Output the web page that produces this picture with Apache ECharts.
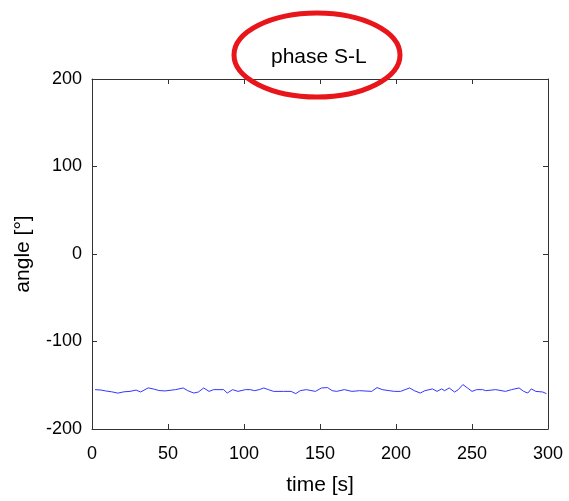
<!DOCTYPE html>
<html>
<head>
<meta charset="utf-8">
<script src="https://cdn.jsdelivr.net/npm/echarts@6/dist/echarts.min.js"></script>
<style>html,body{margin:0;padding:0;background:#fff;}#c{width:569px;height:501px;}</style>
</head>
<body>
<div id="c"></div>
<script>
var titleText = 'phase S-L';
var xTicks = [0, 50, 100, 150, 200, 250, 300];
var yTicks = [-200, -100, 0, 100, 200];
var times = [2,6,9,13,17,21,25,29,32,37,41,44,48,
  55,60,63,67,70,73.5,77,80,86.6,89,92.5,96,101,
  104,107,110,113,116,119.5,126,131,134,137,141,147,151,
  155,158,161,166,171,176,184,187.5,191,195.5,199,203,
  206,209,212,216,219,224,227,230,232,235,238.5,241,244,247,250,253,
  257,259,265.6,272,276,281,284,286.7,289,292,296.5,299];
var angles = [-155,-155.5,-156.5,-157.5,-159,-157.5,-157,-155.5,-157.7,-153,-154.5,-156,-156.5,
  -155,-153.1,-156.2,-158.9,-157.7,-153.1,-157,-155,-155,-158.9,-155,-157,-155,
  -155,-156.2,-155,-153.1,-155,-157,-157,-157,-159.6,-156.2,-155,-157,-153.1,
  -152.7,-156.2,-157,-155,-157,-156.2,-157,-152.7,-155,-156.2,-157,-157,
  -155,-153.1,-156.2,-158.9,-156.2,-154.2,-157,-154.2,-156.2,-153.1,-157.7,-155,-149.2,-153.1,-157,-155,
  -155,-156.2,-155,-157,-155,-153.1,-157,-158.9,-154.2,-157,-157.7,-159.6];

var data = times.map(function(t, i){ return [t, angles[i]]; });

var chart = echarts.init(document.getElementById('c'));
var font = 'Liberation Sans, Arial, Helvetica, sans-serif';
function axisLine(){ return {show:true, onZero:false, lineStyle:{color:'#333', width:1}}; }
function tick(len){ return {show:true, inside:true, length:len||5, lineStyle:{color:'#333', width:1}}; }
chart.setOption({
  animation:false,
  backgroundColor:'#fff',
  title:{text:titleText, left:266, top:42,
    textStyle:{fontFamily:font, fontSize:21, fontWeight:'normal', color:'#000'}},
  grid:{left:92, right:21, top:79, bottom:72, show:false},
  xAxis:[{type:'value', min:0, max:300, interval:50, position:'bottom',
    name:'time [s]', nameLocation:'middle', nameGap:46,
    nameTextStyle:{fontFamily:font, fontSize:21, color:'#000'},
    axisLine:axisLine(), axisTick:tick(), splitLine:{show:false},
    axisLabel:{fontFamily:font, fontSize:18, color:'#000', margin:16}},
   {type:'value', min:0, max:300, interval:50, position:'top',
    axisLine:axisLine(), axisTick:tick(), splitLine:{show:false}, axisLabel:{show:false}}],
  yAxis:[{type:'value', min:-200, max:200, interval:100, position:'left',
    name:'angle [°]', nameLocation:'middle', nameGap:58, nameRotate:90,
    nameTextStyle:{fontFamily:font, fontSize:21, color:'#000'},
    axisLine:axisLine(), axisTick:tick(), splitLine:{show:false},
    axisLabel:{fontFamily:font, fontSize:18, color:'#000', margin:10}},
   {type:'value', min:-200, max:200, interval:100, position:'right',
    axisLine:axisLine(), axisTick:tick(), splitLine:{show:false}, axisLabel:{show:false}}],
  series:[{type:'line', data:data, showSymbol:false, symbol:'none',
    lineStyle:{color:'#3535ff', width:1}, xAxisIndex:0, yAxisIndex:0}],
  graphic:[{type:'ellipse', shape:{cx:317, cy:55, rx:83, ry:42},
    style:{fill:'none', stroke:'#e8161b', lineWidth:5}, z:100}]
});
</script>
</body>
</html>
